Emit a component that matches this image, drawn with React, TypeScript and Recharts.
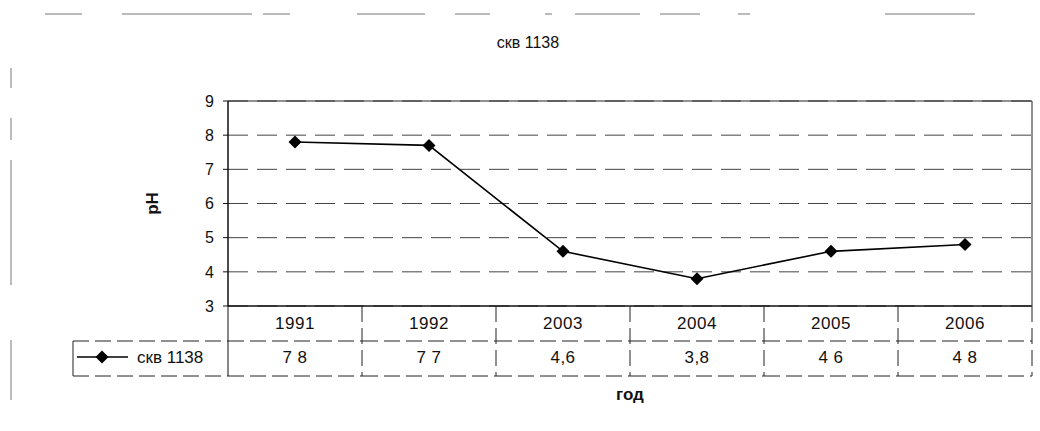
import { ComposedChart, Line, XAxis, YAxis, CartesianGrid, Label } from "recharts";

// data
const years = ["1991", "1992", "2003", "2004", "2005", "2006"];
const phValues = [7.8, 7.7, 4.6, 3.8, 4.6, 4.8];
// data table text as printed (scan lost some commas)
const tableLabels = ["7 8", "7 7", "4,6", "3,8", "4 6", "4 8"];
const yTicks = [3, 4, 5, 6, 7, 8, 9];
const seriesName = "скв 1138";
const chartTitle = "скв 1138";

const data = years.map((year, i) => ({ year, ph: phValues[i], label: tableLabels[i] }));

const FONT = '"Liberation Sans", Arial, sans-serif';

// scan smudges on the page (top rule and left edge)
const topRule = [[45, 82], [122, 252], [263, 290], [357, 425], [455, 490], [545, 552], [575, 640], [660, 700], [738, 750], [885, 975]];
const leftRule = [[68, 88], [118, 140], [160, 285], [340, 400]];

function Diamond(props: any) {
  const { cx, cy } = props;
  if (cx == null || cy == null) return null;
  const r = 6.5;
  return <path d={`M${cx},${cy - r}L${cx + r},${cy}L${cx},${cy + r}L${cx - r},${cy}Z`} fill="#000" />;
}

function TableTick(props: any) {
  const { x, y, payload, index, width } = props;
  const n = years.length;
  const half = (width && width > 0 ? width / n : 134) / 2;
  const rowH = 35;
  const left = x - half;
  const right = x + half;
  const dashed = { stroke: "#222", strokeWidth: 1, strokeDasharray: "16 6" };
  const txt = { textAnchor: "middle" as const, dominantBaseline: "central" as const, fontSize: 17, fill: "#111", fontFamily: FONT, letterSpacing: 0.5 };
  return (
    <g>
      <text x={x} y={y + 17} {...txt}>{payload.value}</text>
      <text x={x} y={y + 51} {...txt}>{data[index]?.label}</text>
      <line x1={left} y1={y + rowH} x2={right} y2={y + rowH} {...dashed} />
      <line x1={left} y1={y + 2 * rowH} x2={right} y2={y + 2 * rowH} {...dashed} />
      {index === 0 ? (
        <line x1={left} y1={y} x2={left} y2={y + 2 * rowH} stroke="#111" />
      ) : (
        <line x1={left} y1={y} x2={left} y2={y + 2 * rowH} {...dashed} />
      )}
      {index === n - 1 && <line x1={right} y1={y} x2={right} y2={y + 2 * rowH} {...dashed} />}
      {index === 0 && (
        <g>
          <line x1={left - 155} y1={y + rowH} x2={left} y2={y + rowH} {...dashed} />
          <line x1={left - 155} y1={y + 2 * rowH} x2={left} y2={y + 2 * rowH} {...dashed} />
          <line x1={left - 155} y1={y + rowH} x2={left - 155} y2={y + 2 * rowH} stroke="#222" />
          <line x1={left - 151} y1={y + 51} x2={left - 100} y2={y + 51} stroke="#000" strokeWidth={1.5} />
          <Diamond cx={left - 126} cy={y + 51} />
          <text x={left - 91} y={y + 51} dominantBaseline="central" fontSize={17} fill="#111" fontFamily={FONT}>
            {seriesName}
          </text>
        </g>
      )}
    </g>
  );
}

function PhLabel(props: any) {
  const vb = props.viewBox || {};
  const cx = (vb.x ?? 148) + 4;
  const cy = (vb.y ?? 101) + (vb.height ?? 205) / 2;
  return (
    <text x={cx} y={cy} transform={`rotate(-90, ${cx}, ${cy})`} textAnchor="middle" dominantBaseline="central"
      fontSize={17} fontWeight="bold" fill="#111" fontFamily={FONT}>
      pH
    </text>
  );
}

export default function App() {
  return (
    <div style={{ position: "absolute", left: 0, top: 0, width: 1040, height: 431, background: "#fff" }}>
      <svg width={1040} height={431} style={{ position: "absolute", left: 0, top: 0 }}>
        {topRule.map(([a, b], i) => (
          <line key={"t" + i} x1={a} y1={14} x2={b} y2={14} stroke="#777" strokeWidth={1} />
        ))}
        {leftRule.map(([a, b], i) => (
          <line key={"l" + i} x1={11} y1={a} x2={11} y2={b} stroke="#777" strokeWidth={1} />
        ))}
        <text x={528} y={42} textAnchor="middle" dominantBaseline="central" fontSize={16} fill="#111" fontFamily={FONT}>
          {chartTitle}
        </text>
      </svg>
      <div style={{ position: "absolute", left: 0, top: 0 }}>
        <ComposedChart width={1040} height={431} data={data} margin={{ top: 100, right: 7, bottom: 55, left: 148 }}>
          <CartesianGrid horizontal vertical={false} stroke="#444" strokeDasharray="20 9" />
          <XAxis
            dataKey="year"
            scale="band"
            height={70}
            tickSize={0}
            tickMargin={0}
            tickLine={false}
            axisLine={{ stroke: "#111", strokeWidth: 1.5 }}
            tick={<TableTick />}
            interval={0}
          >
            <Label value="год" position="bottom" offset={12} fontSize={17} fontWeight="bold" fill="#111" fontFamily={FONT} />
          </XAxis>
          <XAxis xAxisId="top" dataKey="year" scale="band" orientation="top" height={1} tick={false} tickSize={0}
            stroke="#222" axisLine={true} />
          <YAxis
            domain={[3, 9]}
            ticks={yTicks}
            width={80}
            tickSize={5}
            tickMargin={9}
            interval={0}
            tickLine={{ stroke: "#111" }}
            axisLine={{ stroke: "#111", strokeWidth: 1.5 }}
            tick={{ fontSize: 16, fill: "#111", fontFamily: FONT }}
          >
            <Label content={<PhLabel />} />
          </YAxis>
          <YAxis yAxisId="r" orientation="right" width={1} domain={[3, 9]} tick={false} tickSize={0}
            stroke="#222" axisLine={true} />
          {/* invisible copy that binds the frame axes (top / right) */}
          <Line
            xAxisId="top"
            yAxisId="r"
            dataKey="ph"
            stroke="none"
            dot={false}
            activeDot={false}
            legendType="none"
            isAnimationActive={false}
          />
          <Line
            dataKey="ph"
            stroke="#000"
            strokeWidth={1.6}
            dot={<Diamond />}
            activeDot={false}
            isAnimationActive={false}
          />
        </ComposedChart>
      </div>
    </div>
  );
}
